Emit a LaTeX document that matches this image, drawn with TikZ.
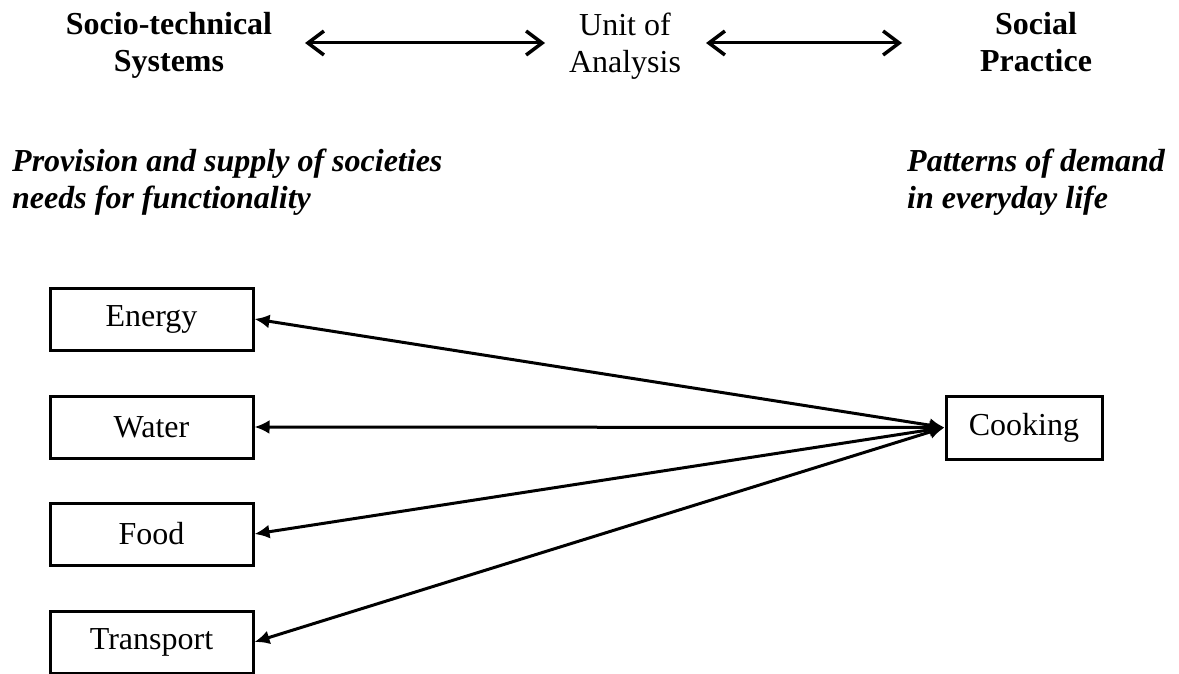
\documentclass[tikz,border=0pt]{standalone}
\usepackage{fontspec}
\setmainfont{Liberation Serif}
\usetikzlibrary{arrows.meta}
\begin{document}
\begin{tikzpicture}[x=1pt,y=-1pt,
  heading/.style={font=\fontsize{32}{37}\selectfont\bfseries, align=center, anchor=base, inner sep=0pt},
  plainhead/.style={font=\fontsize{32}{37}\selectfont, align=center, anchor=base, inner sep=0pt},
  note/.style={font=\fontsize{32}{37}\selectfont\bfseries\itshape, align=left, anchor=base west, inner sep=0pt},
  sysbox/.style={draw, line width=3pt, minimum width=203pt, minimum height=62pt, inner sep=0pt,
    font=\fontsize{32}{37}\selectfont},
  linkarrow/.style={line width=3pt, {Straight Barb[length=16pt,width=24pt,line width=3.5pt]}-{Straight Barb[length=16pt,width=24pt,line width=3.5pt]}},
  demand/.style={line width=3pt, {Latex[length=15pt,width=14pt]}-{Latex[length=15pt,width=14pt]}}
]
\useasboundingbox (0,0) rectangle (1179,674);

% column headings (base anchor sits on the last line)
\node[heading]   (sts)  at (169,72)  {Socio-technical\\Systems};
\node[plainhead] (unit) at (625,73)  {Unit of\\Analysis};
\node[heading]   (sp)   at (1036,72) {Social\\Practice};

\coordinate (a1) at (305,43);
\coordinate (b1) at (545,43);
\coordinate (a2) at (706,43);
\coordinate (b2) at (902,43);
\draw[linkarrow] (a1) -- (b1);
\draw[linkarrow] (a2) -- (b2);

% descriptions
\node[note] (prov) at (12,209)  {Provision and supply of societies\\needs for functionality};
\node[note] (patt) at (907,209) {Patterns of demand\\in everyday life};

% systems and practice
\node[sysbox] (energy)    at (151.5,319) {Energy};
\node[sysbox] (water)     at (151.5,427) {Water};
\node[sysbox] (food)      at (151.5,534) {Food};
\node[sysbox] (transport) at (151.5,642) {Transport};
\node[sysbox, minimum width=156pt, minimum height=63pt] (cook) at (1024,427.5) {Cooking};

\foreach \s in {energy,water,food,transport}
  \draw[demand] (\s.east) -- (cook.west);
\end{tikzpicture}
\end{document}
